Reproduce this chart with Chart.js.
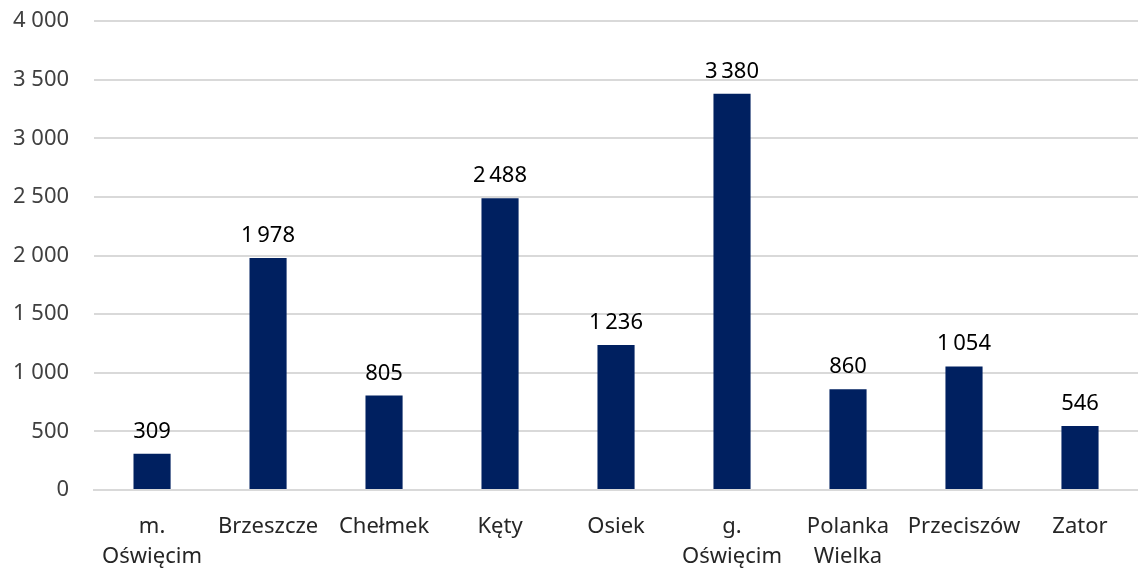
<!DOCTYPE html>
<html><head><meta charset="utf-8">
<script src="https://cdn.jsdelivr.net/npm/chart.js@4"></script>
<style>html,body{margin:0;padding:0;background:#fff}#wrap{width:1138px;height:569px}</style>
</head><body><div id="wrap"><canvas id="c"></canvas></div>
<script>
const categories = [["m.","Oświęcim"],"Brzeszcze","Chełmek","Kęty","Osiek",["g.","Oświęcim"],["Polanka","Wielka"],"Przeciszów","Zator"];
const values = [309,1978,805,2488,1236,3380,860,1054,546];
const yMin = 0, yMax = 4000, yStep = 500;
const fmt = (v, sep) => String(v).replace(/\B(?=(\d{3})+(?!\d))/g, sep || "\u00a0");
const FONT = "'Noto Sans', 'Open Sans', sans-serif";
const labelPlugin = {
  id: 'vlabels',
  afterDatasetsDraw(chart){
    const ctx = chart.ctx;
    const meta = chart.getDatasetMeta(0);
    ctx.save();
    ctx.font = "22px " + FONT;
    ctx.fillStyle = "#000";
    ctx.textAlign = "center";
    ctx.textBaseline = "alphabetic";
    meta.data.forEach((el,i)=>{ ctx.fillText(fmt(values[i], "\u202f"), el.x, el.y - 16); });
    ctx.restore();
  }
};
new Chart(document.getElementById('c'), {
  type: 'bar',
  data: { labels: categories, datasets: [{ data: values, backgroundColor: '#002060', barPercentage: 0.32, categoryPercentage: 1 }] },
  options: {
    responsive: true, maintainAspectRatio: false, animation: false,
    layout: { padding: { top: 0, right: 0, left: -12, bottom: 0 } },
    plugins: { legend: { display: false }, tooltip: { enabled: false } },
    scales: {
      x: { grid: { display: false, drawTicks: false }, border: { display: true, color: '#d9d9d9', width: 2 },
           afterFit(s){ s.height = 79; s.paddingLeft = 0; s.paddingRight = 0; },
           ticks: { color: '#262626', font: { family: FONT, size: 22, lineHeight: 1.4 }, padding: 21, maxRotation: 0, autoSkip: false } },
      y: { min: yMin, max: yMax, grid: { color: '#d9d9d9', lineWidth: 2, drawTicks: false }, border: { display: false },
           afterFit(s){ s.paddingTop = 21; s.paddingBottom = 0; },
           ticks: { stepSize: yStep, color: '#404040', padding: 25, font: { family: FONT, size: 22 }, callback: v => fmt(v) } }
    }
  },
  plugins: [labelPlugin]
});
</script></body></html>
